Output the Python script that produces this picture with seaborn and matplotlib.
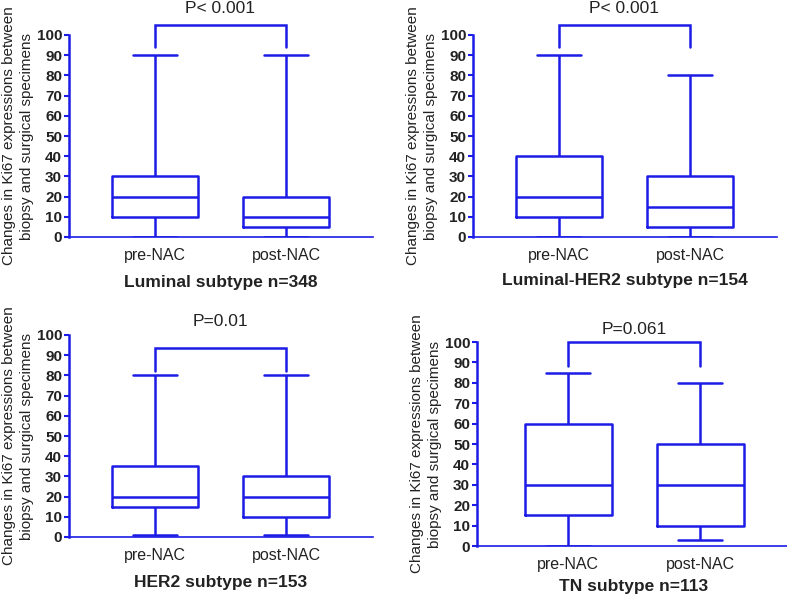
import pandas as pd
import seaborn as sns
import matplotlib.pyplot as plt

# five-number summaries (min, Q1, median, Q3, max)
groups = ['pre-NAC', 'post-NAC']
luminal_pre = [0, 10, 20, 30, 90]
luminal_post = [0, 5, 10, 20, 90]
lumher2_pre = [0, 10, 20, 40, 90]
lumher2_post = [0, 5, 15, 30, 80]
her2_pre = [1, 15, 20, 35, 80]
her2_post = [1, 10, 20, 30, 80]
tn_pre = [0, 15, 30, 60, 85]
tn_post = [3, 10, 30, 50, 80]

titles = ['Luminal subtype n=348', 'Luminal-HER2 subtype n=154',
          'HER2 subtype n=153', 'TN subtype n=113']
pvalues = ['P< 0.001', 'P< 0.001', 'P=0.01', 'P=0.061']
series = [(luminal_pre, luminal_post), (lumher2_pre, lumher2_post),
          (her2_pre, her2_post), (tn_pre, tn_post)]

rows = []
for t, (pre, post) in zip(titles, series):
    rows += [(t, groups[0], v) for v in pre]
    rows += [(t, groups[1], v) for v in post]
df = pd.DataFrame(rows, columns=['panel', 'group', 'value'])

sns.set_style('white')
plt.rcParams['font.family'] = ['Liberation Sans', 'DejaVu Sans']
blue = '#1c1ce6'
ink = '#222222'

W, H = 787, 598
fig = plt.figure(figsize=(W / 100, H / 100), dpi=100)

# axes boxes in pixels: left, right, y of 100, y of 0, xlim, xlabel centre y
boxes = [(69, 373, 35, 237, (-0.656, 1.664), 282),
         (473, 777, 35, 237, (-0.656, 1.664), 281),
         (69, 373, 335, 537, (-0.656, 1.664), 582),
         (477, 790, 342, 546, (-0.69, 1.68), 586)]
# bracket (top, end) and p-text y in data units
brackets = [(105, 94, 109.5), (105, 94, 109.5), (93.5, 82, 103), (100, 88, 102.5)]

for t, p, (l, r, ytop, ybot, xl, ylab), (btop, bend, ptxt) in zip(titles, pvalues, boxes, brackets):
    ax = fig.add_axes([l / W, (H - ybot) / H, (r - l) / W, (ybot - ytop) / H])
    sns.boxplot(data=df[df.panel == t], x='group', y='value', order=groups,
                fill=False, color=blue, whis=(0, 100), width=0.66,
                linewidth=1.8, showfliers=False, ax=ax)
    ax.set_xlim(*xl)
    ax.set_ylim(0, 100)
    ax.set_yticks(range(0, 101, 10))
    sns.despine(ax=ax)
    ax.spines['left'].set_color(blue)
    ax.spines['left'].set_linewidth(1.8)
    ax.spines['bottom'].set_color(blue)
    ax.spines['bottom'].set_linewidth(1.2)
    ax.tick_params(axis='y', direction='out', length=3.5, width=1.5, color=blue,
                   labelsize=11, labelcolor=ink, pad=1.5, left=True)
    ax.tick_params(axis='x', length=0, labelsize=11.5, labelcolor=ink, pad=8)
    for lab in ax.get_yticklabels():
        lab.set_fontweight('bold')
    ax.set_xlabel(t, fontsize=12.5, fontweight='bold', color=ink, va='center')
    ax.xaxis.set_label_coords(0.5, (ybot - ylab) / (ybot - ytop))
    ax.set_ylabel('Changes in Ki67 expressions between\nbiopsy and surgical specimens',
                  fontsize=11, color=ink, labelpad=2, linespacing=1.3)
    ax.plot([0, 0, 1, 1], [bend, btop, btop, bend], color=blue, lw=1.8,
            clip_on=False, solid_joinstyle='miter')
    ax.text(0.5, ptxt, p, ha='center', va='bottom', fontsize=12.5, color=ink,
            clip_on=False)

fig.savefig('out.png', dpi=100)
